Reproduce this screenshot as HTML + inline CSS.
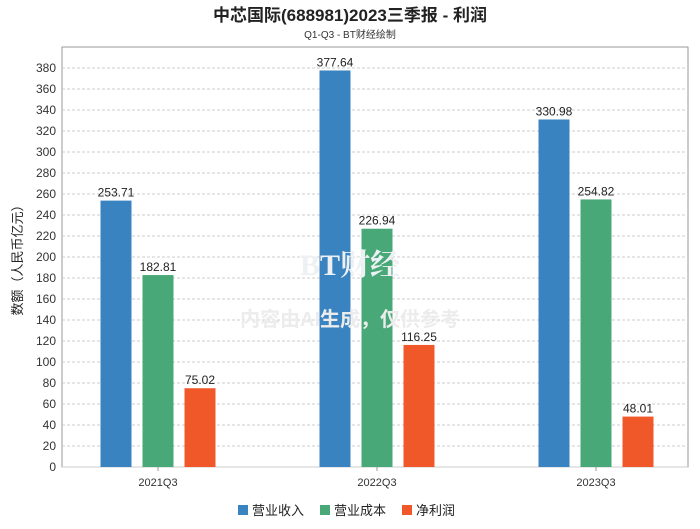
<!DOCTYPE html>
<html><head><meta charset="utf-8"><style>
body{margin:0;background:#fff;width:700px;height:524px;overflow:hidden;font-family:"Liberation Sans","Noto Sans CJK SC",sans-serif}
</style></head><body>
<svg id="c" width="700" height="524" xmlns="http://www.w3.org/2000/svg">
<text x="350" y="21" text-anchor="middle" font-size="17" font-weight="bold" fill="#222" font-family="Liberation Sans,Noto Sans CJK SC,sans-serif">中芯国际(688981)2023三季报 - 利润</text>
<text x="350" y="38" text-anchor="middle" font-size="10" fill="#333" font-family="Liberation Sans,Noto Sans CJK SC,sans-serif">Q1-Q3 - BT财经绘制</text>
<text transform="translate(22,257) rotate(-90)" text-anchor="middle" font-size="13" fill="#222" font-family="Liberation Sans,Noto Sans CJK SC,sans-serif">数额（人民币亿元）</text>
<g id="grid"></g><g id="bars"></g>
<text x="350" y="275" text-anchor="middle" font-size="30" fill="#eef1f4" font-weight="bold" font-family="Liberation Serif,Noto Serif CJK SC,serif">BT财经</text>
<text x="350" y="326" text-anchor="middle" font-size="20" fill="#ececec" font-weight="bold" font-family="Liberation Sans,Noto Sans CJK SC,sans-serif">内容由AI生成，仅供参考</text>
<g id="legend"></g>
</svg>
<script>
const categories=["2021Q3","2022Q3","2023Q3"];
const revenue=[253.71,377.64,330.98];
const cost=[182.81,226.94,254.82];
const profit=[75.02,116.25,48.01];
const yTicks=[0,20,40,60,80,100,120,140,160,180,200,220,240,260,280,300,320,340,360,380];
const seriesNames=["营业收入","营业成本","净利润"];
const NS="http://www.w3.org/2000/svg";
const L=62,R=688,T=47,B=467,YMAX=400;
const y=v=>B-(v/YMAX)*(B-T);
const first=158,last=596;
const xc=i=>first+(last-first)*i/(categories.length-1);
function mk(t,a,p){const e=document.createElementNS(NS,t);for(const k in a)e.setAttribute(k,a[k]);p.appendChild(e);return e;}
const grid=document.getElementById('grid'),bars=document.getElementById('bars'),leg=document.getElementById('legend');
mk('rect',{x:L,y:T,width:R-L,height:B-T,fill:'none',stroke:'#999'},grid);
yTicks.forEach(v=>{
 const ln=mk('line',{x1:L,x2:R,y1:y(v),y2:y(v),stroke:'#ccc','stroke-dasharray':v===0?'':'3,2'},grid);
 
 
 const t=mk('text',{x:L-6,y:y(v)+4,'text-anchor':'end','font-size':12,fill:'#333'},grid);t.textContent=v;
 
 
});
const colors=["#3a83c1","#48a877","#f0582a"];
const series=[revenue,cost,profit];
categories.forEach((c,i)=>{
 const t=mk('text',{x:xc(i),y:486,'text-anchor':'middle','font-size':11,fill:'#333'},grid);t.textContent=c;
 
 
 mk('line',{x1:xc(i),x2:xc(i),y1:B,y2:B+4,stroke:'#999'},grid);
 series.forEach((s,j)=>{
  const x=xc(i)+(j-1)*42-15.5;
  const r=mk('rect',{x:x,y:y(s[i]),width:31,height:B-y(s[i]),fill:colors[j]},bars);
  
  
  const l=mk('text',{x:x+15.5,y:y(s[i])-4,'text-anchor':'middle','font-size':12,fill:'#222'},bars);l.textContent=s[i].toFixed(2);
  
  
 });
});
const lx=[238,320,402];
seriesNames.forEach((n,j)=>{
 const g=mk('g',{},leg);
 
 
 mk('rect',{x:lx[j],y:505,width:10,height:10,fill:colors[j]},g);
 const t=mk('text',{x:lx[j]+14,y:515,'font-size':13,fill:'#222'},g);t.textContent=n;
});
</script>
</body></html>
